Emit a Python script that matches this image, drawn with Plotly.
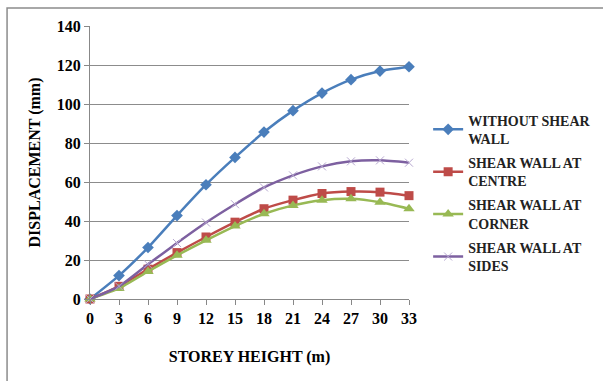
import plotly.graph_objects as go

# Storey heights (m) and lateral displacement (mm) for each model
storey_height = [0, 3, 6, 9, 12, 15, 18, 21, 24, 27, 30, 33]
without_shear_wall = [0, 12, 26.4, 42.8, 58.6, 72.6, 85.6, 96.6, 105.6, 112.5, 116.9, 119.1]
shear_wall_centre = [0, 6.5, 15.3, 23.8, 31.8, 39.4, 46.3, 50.7, 54.1, 55.1, 54.8, 53]
shear_wall_corner = [0, 5.4, 14.1, 22.4, 30.1, 37.4, 43.7, 48, 50.7, 51.4, 49.6, 46.3]
shear_wall_sides = [0, 6.5, 17.8, 28.7, 39.2, 48.6, 57.2, 63.4, 68, 70.6, 71.1, 69.9]

series_names = [
    "WITHOUT SHEAR<br>WALL",
    "SHEAR WALL AT<br>CENTRE",
    "SHEAR WALL AT<br>CORNER",
    "SHEAR WALL AT<br>SIDES",
]
y_ticks = [0, 20, 40, 60, 80, 100, 120, 140]

FONT = "Liberation Serif"
BOLD = dict(family=FONT, size=16, color="black", weight="bold")

fig = go.Figure()

styles = [
    (without_shear_wall, "#4A7EBB", dict(symbol="diamond", size=9, color="#4A7EBB")),
    (shear_wall_centre, "#BE4B48", dict(symbol="square", size=9, color="#BE4B48")),
    (shear_wall_corner, "#98B954", dict(symbol="triangle-up", size=10, color="#98B954")),
    (shear_wall_sides, "#7D60A0", dict(symbol="x-thin", size=8,
                                       line=dict(width=1, color="#B7A8D0"))),
]

for i, (name, (vals, col, mk)) in enumerate(zip(series_names, styles)):
    fig.add_trace(go.Scatter(
        x=storey_height, y=vals, name=f"<b>{name.replace('<br>', '</b><br><b>')}</b>",
        mode="lines+markers", legendgroup=f"g{i}",
        line=dict(color=col, width=2.5, shape="spline", smoothing=0.6),
        marker=mk, cliponaxis=False,
    ))

fig.update_layout(
    width=603, height=381,
    margin=dict(l=90, r=194, t=26, b=82, autoexpand=False),
    paper_bgcolor="white", plot_bgcolor="white",
    font=dict(family=FONT, size=16, color="black"),
    showlegend=True,
    legend=dict(
        x=1.06, y=0.712, xanchor="left", yanchor="top",
        font=dict(family=FONT, size=14, color="#222222"),
        bgcolor="rgba(0,0,0,0)", borderwidth=0, tracegroupgap=3,
        itemwidth=30,
    ),
    shapes=[dict(
        type="rect", xref="paper", yref="paper",
        x0=-0.26, x1=1.8, y0=-0.4, y1=1.066,
        line=dict(color="#8c8c8c", width=1.5), layer="below",
    )],
)

fig.update_xaxes(
    range=[0, 33], tickvals=storey_height, ticktext=[str(v) for v in storey_height],
    showgrid=False, zeroline=False, showline=True, linecolor="#888888", linewidth=1,
    ticks="outside", ticklen=5, tickcolor="#888888",
    tickfont=BOLD,
    title=dict(text="STOREY HEIGHT (m)", standoff=24, font=BOLD),
)
fig.update_yaxes(
    range=[0, 140], tickvals=y_ticks,
    showgrid=True, gridcolor="#8c8c8c", gridwidth=1, zeroline=False,
    showline=True, linecolor="#888888", linewidth=1,
    ticks="outside", ticklen=5, tickcolor="#888888",
    tickfont=BOLD,
    title=dict(text="DISPLACEMENT (mm)", standoff=12, font=BOLD),
)

fig.write_html("out.html")
